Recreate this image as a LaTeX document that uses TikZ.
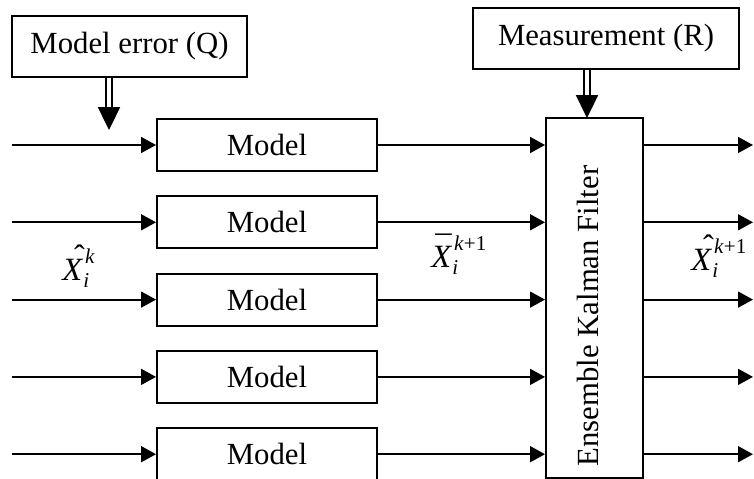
\documentclass[tikz,border=0pt]{standalone}
\usepackage{fontspec}
\setmainfont{Liberation Serif}
\usetikzlibrary{arrows.meta, positioning, calc}

% ensemble state with accent, subscript and superscript
\newcommand{\smallfont}{\fontsize{12}{12}\selectfont}
\newcommand{\hatX}{\rlap{\kern0.36em\raisebox{0.42em}{ˆ}}\textit{X}}
\newcommand{\barX}{\rlap{\kern0.12em\raisebox{0.3em}{¯}}\textit{X}}
\newcommand{\ensvar}[3]{#1\rlap{\raisebox{-0.2em}{\smallfont\itshape #2}}\kern0.06em\raisebox{0.55em}{\smallfont #3}}

\begin{document}
\begin{tikzpicture}[
    x=0.02cm, y=-0.02cm,
    every node/.style={font=\fontsize{17.5}{20}\selectfont},
    box/.style={draw, line width=1.1pt, inner sep=0pt},
    modelbox/.style={box, minimum width=4.4cm, minimum height=1.04cm},
    flow/.style={line width=1.1pt, -{Triangle[length=8.5pt, width=9pt]}},
    feed/.style={line width=1.1pt, double, double distance=2.2pt,
        -{Triangle[length=13pt, width=12.5pt]}},
    lab/.style={inner sep=0pt, anchor=base west, font=\fontsize{18.5}{20}\selectfont},
]
\useasboundingbox (0,0) rectangle (754,479);

% inputs from above
\node[box, minimum width=4.7cm, minimum height=1.22cm] (qbox) at (129.5, 46.5) {Model error (Q)};
\node[box, minimum width=5.32cm, minimum height=1.22cm] (rbox) at (606, 38.5) {Measurement (R)};

% the filter
\node[box, minimum width=1.94cm, minimum height=7.2cm] (enkf) at (594.5, 298) {};
\node[rotate=90] (enkftext) at (588, 316) {Ensemble Kalman Filter};

% ensemble members
\foreach \i in {1,...,5}{
    \pgfmathsetmacro\yy{145 + (\i-1)*77.3}
    \node[modelbox] (m\i) at (267, \yy) {Model};
    \coordinate (in\i) at (12, \yy);
    \coordinate (out\i) at (753, \yy);
    \draw[flow] (in\i) -- (m\i.west);
    \draw[flow] (m\i.east) -- (m\i.east -| enkf.west);
    \draw[flow] (enkf.east |- out\i) -- (out\i);
}

\coordinate (qtip) at (109, 130);
\draw[feed] (qbox.south -| qtip) -- (qtip);
\coordinate (rtip) at (587, 118);
\draw[feed] (rbox.south -| rtip) -- (rtip);

% state labels
\node[lab] (xa) at (62, 281) {\ensvar{\hatX}{i}{\textit{k}}};
\node[lab] (xf) at (431, 268) {\ensvar{\barX}{i}{\textit{k}+1}};
\node[lab] (xn) at (691, 271) {\ensvar{\hatX}{i}{\textit{k}+1}};
\end{tikzpicture}
\end{document}
